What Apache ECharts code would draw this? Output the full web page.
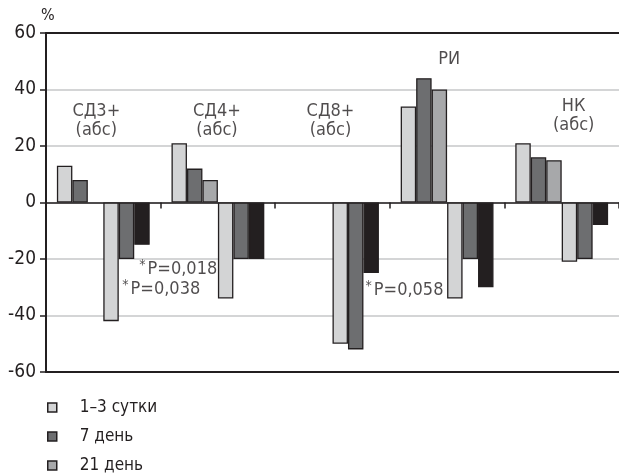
<!DOCTYPE html>
<html>
<head>
<meta charset="utf-8">
<script src="https://cdn.jsdelivr.net/npm/echarts@6/dist/echarts.min.js"></script>
<style>
  html, body { margin: 0; padding: 0; background: #fff; }
  #chart { width: 619px; height: 473px; }
</style>
</head>
<body>
<div id="chart"></div>
<script>
// группы показателей
const categories = ['СД3+ (абс)', 'СД4+ (абс)', 'СД8+ (абс)', 'РИ', 'НК (абс)']
const seriesNames = ['1–3 сутки', '7 день', '21 день']
// рост, %
const upDays13 = [13, 21, null, 34, 21]
const upDay7 = [8, 12, null, 44, 16]
const upDay21 = [null, 8, null, 40, 15]
// снижение, %
const downDays13 = [-42, -34, -50, -34, -21]
const downDay7 = [-20, -20, -52, -20, -20]
const downDay21 = [-15, -20, -25, -30, -8]
const yTicks = [-60, -40, -20, 0, 20, 40, 60]

// подписи групп и значимость
const groupLabels = ['СД3+\n(абс)', 'СД4+\n(абс)', 'СД8+\n(абс)', 'РИ', 'НК\n(абс)']
const groupLabelY = [28.8, 28.8, 28.8, 50.8, 30.6]
const pLabels = ['P=0,018', 'P=0,038', 'P=0,058']
const pGroup = [0, 0, 2]
const pY = [-23.8, -30.9, -31.2]

const FONT = '"Liberation Sans Narrow", "DejaVu Sans Condensed", "Arial Narrow", sans-serif'
const INK = '#231f20'
const colors = { light: '#d3d4d5', dark: '#6d6e70', mid: '#a7a8aa', black: '#231f20' }

const groupDx = [-7, -1, -2, 2, 12]
const pDx = [36, 19, 33]

function barSeries(name, data, color) {
  return {
    name: name,
    type: 'bar',
    data: data,
    barGap: 0,
    barCategoryGap: '19%',
    itemStyle: { color: color, borderColor: INK, borderWidth: 1.3 },
    emphasis: { disabled: true },
    animation: false
  }
}

const series = [
  barSeries(seriesNames[0], upDays13, colors.light),
  barSeries(seriesNames[1], upDay7, colors.dark),
  barSeries(seriesNames[2], upDay21, colors.mid),
  barSeries(seriesNames[0], downDays13, colors.light),
  barSeries(seriesNames[1], downDay7, colors.dark),
  barSeries('21 день ', downDay21, colors.black)
]

series.push({
  type: 'scatter',
  symbolSize: 0,
  silent: true,
  animation: false,
  data: groupLabels.map((t, i) => ({
    value: [i, groupLabelY[i]],
    label: { formatter: t, offset: [groupDx[i], 0] }
  })),
  label: {
    show: true,
    position: 'inside',
    fontFamily: FONT,
    fontSize: 18,
    lineHeight: 19,
    color: INK,
    align: 'center'
  }
})
series.push({
  type: 'scatter',
  symbolSize: 0,
  silent: true,
  animation: false,
  data: pLabels.map((t, i) => ({
    value: [pGroup[i], pY[i]],
    label: { formatter: '{a|*}{b|' + t + '}', offset: [pDx[i], 0] }
  })),
  label: {
    show: true,
    position: 'inside',
    align: 'left',
    color: INK,
    rich: {
      a: { fontFamily: FONT, fontSize: 14, color: INK, padding: [0, 2, 8, 0] },
      b: { fontFamily: FONT, fontSize: 18, color: INK }
    }
  }
})

// рамка сверху и снизу — отдельные оси без подписей
const frameAxis = (pos) => ({
  type: 'category',
  position: pos,
  data: categories,
  axisLine: { onZero: false, lineStyle: { color: INK, width: 2 } },
  axisTick: { show: false },
  axisLabel: { show: false },
  splitLine: { show: false }
})

const chart = echarts.init(document.getElementById('chart'))
chart.setOption({
  backgroundColor: '#fff',
  textStyle: { fontFamily: FONT },
  grid: { left: 46, right: -2, top: 33, bottom: 101 },
  legend: {
    orient: 'vertical',
    left: 47,
    top: 399,
    height: 90,
    padding: 0,
    itemWidth: 9,
    itemHeight: 9,
    itemGap: 12,
    icon: 'rect',
    data: seriesNames,
    selectedMode: false,
    itemStyle: { borderColor: INK, borderWidth: 1.5 },
    textStyle: { fontFamily: FONT, fontSize: 17, lineHeight: 16, color: INK, padding: [0, 0, 0, 18] }
  },
  xAxis: [
    {
      type: 'category',
      data: categories,
      axisLine: { onZero: true, lineStyle: { color: INK, width: 1.5 } },
      axisTick: { show: true, length: 6, lineStyle: { color: INK, width: 1.5 } },
      axisLabel: { show: false },
      splitLine: { show: false }
    },
    frameAxis('top'),
    frameAxis('bottom')
  ],
  yAxis: {
    type: 'value',
    min: yTicks[0],
    max: yTicks[yTicks.length - 1],
    interval: 20,
    name: '%',
    nameLocation: 'end',
    nameGap: 4,
    nameTextStyle: { fontFamily: FONT, fontSize: 16, color: INK, align: 'left', padding: [0, 0, 0, -5] },
    axisLine: { show: true, lineStyle: { color: INK, width: 2 } },
    axisTick: { show: true, length: 6, lineStyle: { color: INK, width: 1.5 } },
    axisLabel: { fontFamily: FONT, fontSize: 19, color: INK, margin: 10 },
    splitLine: { show: true, lineStyle: { color: '#c6c7c8', width: 1.5 } }
  },
  series: series
})
</script>
</body>
</html>
